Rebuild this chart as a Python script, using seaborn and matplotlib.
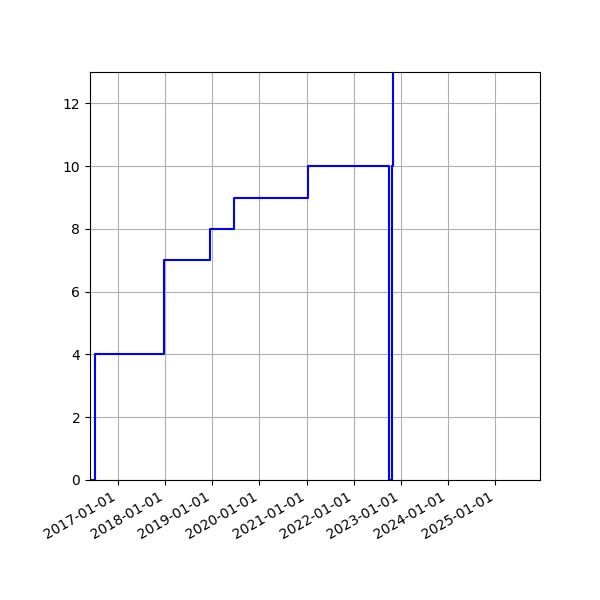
import pandas as pd
import matplotlib
matplotlib.use('Agg')
import matplotlib.pyplot as plt
import matplotlib.dates as mdates
import seaborn as sns

# step points (value holds until the next date)
dates = ['2016-05-29', '2016-07-03', '2017-12-21', '2018-12-16', '2019-06-17',
         '2021-01-11', '2022-09-29', '2022-10-24', '2022-11-03', '2025-12-13']
counts = [0, 4, 7, 8, 9, 10, 0, 10, 20, 20]

df = pd.DataFrame({'date': pd.to_datetime(dates), 'count': counts})

fig, ax = plt.subplots(figsize=(6, 6), dpi=100)

sns.lineplot(data=df, x='date', y='count', ax=ax, color='blue',
             drawstyle='steps-post', linewidth=1.5)

ax.set_xlim(pd.Timestamp('2016-05-29'), pd.Timestamp('2025-12-13'))
ax.set_ylim(0, 13)
ax.xaxis.set_major_locator(mdates.YearLocator())
ax.xaxis.set_major_formatter(mdates.DateFormatter('%Y-%m-%d'))
ax.set_xlabel('')
ax.set_ylabel('')
ax.grid(True)
fig.autofmt_xdate()
fig.subplots_adjust(left=0.15, right=0.9, top=0.88, bottom=0.2)

fig.savefig('out.png')
